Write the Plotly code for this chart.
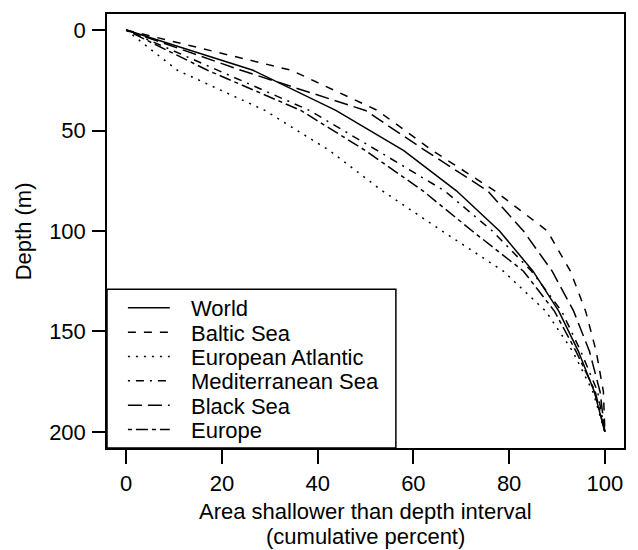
import plotly.graph_objects as go

# ---- data ----
depth = [0, 20, 40, 60, 80, 100, 120, 140, 160, 180, 200]
world = [0, 26.5, 43.8, 58, 69, 78, 85, 90.4, 94.5, 97.8, 100]
baltic = [0, 34.5, 52.5, 64, 77, 88, 92.8, 96, 98.2, 99.7, 100]
eu_atlantic = [0, 10.7, 29, 42.5, 53.5, 66, 78.8, 87.7, 93.3, 97.5, 100]
mediterranean = [0, 19, 38.3, 52.5, 66.5, 76.5, 84.7, 91, 95, 98.5, 100]
black_sea = [0, 24, 50, 62.5, 75.5, 83, 89, 93.5, 96.8, 99, 100]
europe = [0, 17, 36.5, 50, 62, 72.3, 83, 89.5, 94, 98, 100]

series_names = ["World", "Baltic Sea", "European Atlantic",
                "Mediterranean Sea", "Black Sea", "Europe"]
series_values = [world, baltic, eu_atlantic, mediterranean, black_sea, europe]
dashes = ["solid", "8px,8px", "2px,6px", "2px,6px,8px,6px",
          "14px,6px", "4px,4px,12px,4px"]

x_ticks = [0, 20, 40, 60, 80, 100]
y_ticks = [0, 50, 100, 150, 200]

FONT = "Liberation Sans, Arial, Helvetica, sans-serif"
FS = 22
W, H = 638, 550
L, R, T, B = 107, 12, 13, 102
PW, PH = W - L - R, H - T - B


def px2x(px):
    return (px - L) / PW


def px2y(py):
    return (H - B - py) / PH


fig = go.Figure()
for name, vals, dash in zip(series_names, series_values, dashes):
    fig.add_trace(go.Scatter(
        x=vals, y=depth, mode="lines", name=name, showlegend=False,
        line=dict(color="black", width=1.5, dash=dash),
    ))

# manual legend (R-style box, bottom-left)
shapes = [dict(type="rect", xref="paper", yref="paper",
               x0=0, x1=px2x(397), y0=0, y1=px2y(289),
               line=dict(color="black", width=1.5), fillcolor="white",
               layer="above")]
annotations = []
for i, (name, dash) in enumerate(zip(series_names, dashes)):
    py = 307.5 + 24.4 * i
    shapes.append(dict(type="line", xref="paper", yref="paper",
                       x0=px2x(128), x1=px2x(170), y0=px2y(py), y1=px2y(py),
                       line=dict(color="black", width=1.5, dash=dash),
                       layer="above"))
    annotations.append(dict(xref="paper", yref="paper", x=px2x(189),
                            y=px2y(py + 1), xanchor="left", yanchor="middle",
                            text=name, showarrow=False,
                            font=dict(family=FONT, size=FS, color="black")))

# axis titles
annotations.append(dict(xref="paper", yref="paper", x=px2x(366.5), y=px2y(511.5),
                        xanchor="center", yanchor="middle", showarrow=False,
                        text="Area shallower than depth interval",
                        font=dict(family=FONT, size=FS, color="black")))
annotations.append(dict(xref="paper", yref="paper", x=px2x(366.5), y=px2y(536.5),
                        xanchor="center", yanchor="middle", showarrow=False,
                        text="(cumulative percent)",
                        font=dict(family=FONT, size=FS, color="black")))
annotations.append(dict(xref="paper", yref="paper", x=px2x(23), y=0.5,
                        xanchor="center", yanchor="middle", showarrow=False,
                        textangle=-90, text="Depth (m)",
                        font=dict(family=FONT, size=FS, color="black")))

fig.update_layout(
    width=W, height=H,
    margin=dict(l=L, r=R, t=T, b=B, pad=0),
    paper_bgcolor="white", plot_bgcolor="white",
    font=dict(family=FONT, size=FS, color="black"),
    shapes=shapes, annotations=annotations,
    showlegend=False,
)
fig.update_xaxes(
    range=[-4, 104], tickvals=x_ticks, ticktext=[str(v) for v in x_ticks],
    ticks="outside", ticklen=14, tickwidth=1.5, tickcolor="black",
    showline=True, linecolor="black", linewidth=1.5, mirror=True,
    showgrid=False, zeroline=False, ticklabelstandoff=1,
    tickfont=dict(family=FONT, size=FS, color="black"),
)
fig.update_yaxes(
    range=[208, -8], tickvals=y_ticks, ticktext=[str(v) for v in y_ticks],
    ticks="outside", ticklen=13, tickwidth=1.5, tickcolor="black",
    showline=True, linecolor="black", linewidth=1.5, mirror=True,
    showgrid=False, zeroline=False, ticklabelstandoff=2,
    tickfont=dict(family=FONT, size=FS, color="black"),
)

fig.write_html("out.html",
               config={"displayModeBar": False},
               post_script="document.body.style.margin='0';"
                           "document.body.style.overflow='hidden';")
